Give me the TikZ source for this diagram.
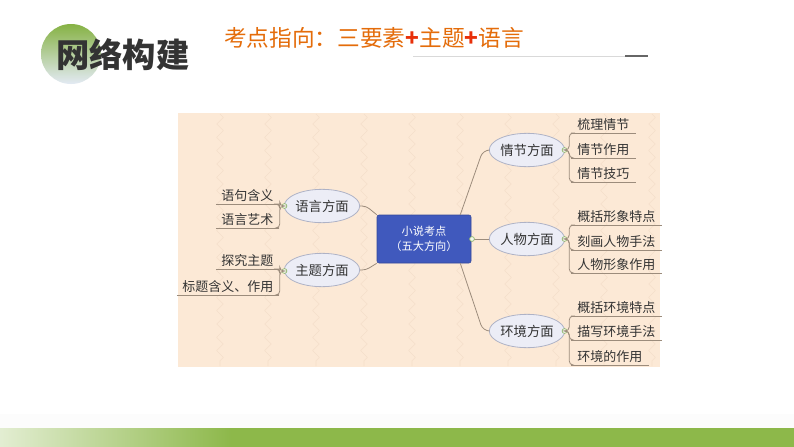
\documentclass[tikz,border=0pt]{standalone}
\usepackage{fontspec}
\newfontfamily\cjk{Noto Sans CJK SC}
\usetikzlibrary{shapes.geometric,decorations.pathmorphing}
\definecolor{peach}{HTML}{FCE9D6}
\definecolor{zig}{HTML}{F4DFCA}
\definecolor{conncol}{HTML}{9C8C7C}
\definecolor{ellfill}{HTML}{ECEDF6}
\definecolor{elldraw}{HTML}{AEB2C6}
\definecolor{ctrblue}{HTML}{4059BD}
\definecolor{ctrdraw}{HTML}{34489A}
\definecolor{dotdraw}{HTML}{8DB36A}
\definecolor{dotfill}{HTML}{F2F8EA}
\definecolor{orangeT}{HTML}{E46C0A}
\definecolor{plusred}{HTML}{E8300A}
\definecolor{barGreen}{HTML}{8DB84A}
\definecolor{circGreen}{HTML}{86B244}
\definecolor{circBlue}{HTML}{E3EAF4}
\begin{document}
\begin{tikzpicture}[x=0.75pt,y=-0.75pt,
  conn/.style={draw=conncol, line width=0.6pt},
  ell/.style={ellipse, draw=elldraw, fill=ellfill, line width=0.6pt,
    minimum width=54pt, minimum height=25pt, inner sep=0pt,
    font=\cjk\fontsize{10}{11}\selectfont, text=black!80},
  leafR/.style={anchor=south west, inner xsep=4.5pt, inner ysep=1.5pt,
    font=\cjk\fontsize{9.75}{11}\selectfont, text=black!80},
  leafL/.style={anchor=south east, inner xsep=4pt, inner ysep=1.5pt,
    font=\cjk\fontsize{9.75}{11}\selectfont, text=black!80},
  uline/.style={draw=conncol, line width=0.6pt},
  dot/.style={circle, draw=dotdraw, fill=dotfill, line width=0.5pt,
    minimum size=3.6pt, inner sep=0pt},
  ctrbox/.style={rectangle, rounded corners=1.5pt, fill=ctrblue, draw=ctrdraw,
    minimum width=70.5pt, minimum height=36pt, align=center, text=white,
    font=\cjk\fontsize{8.4}{11}\selectfont}
]
\useasboundingbox (0,0) rectangle (794,447);
\fill[white] (0,0) rectangle (794,447);

% ---------- header ----------
\shade[top color=circGreen, bottom color=circBlue, middle color=circGreen!50!circBlue]
  (71,54) circle (30);
\node[anchor=west, inner sep=0pt, text=black!80,
  font=\cjk\bfseries\fontsize{25}{26}\selectfont] (title) at (56,55) {网络构建};
\node[anchor=west, inner sep=0pt, text=orangeT,
  font=\cjk\fontsize{17}{18}\selectfont] (sub) at (224,38)
  {考点指向：三要素\textcolor{plusred}{\bfseries +}主题\textcolor{plusred}{\bfseries +}语言};
\coordinate (ul1) at (413,56);
\coordinate (ul2) at (625,56);
\coordinate (ul3) at (648,56);
\draw[draw=black!15, line width=0.5pt] (ul1) -- (ul2);
\draw[draw=black!60, line width=1.5pt] (ul2) -- (ul3);

% ---------- bottom bar ----------
\fill[black!1] (0,414) rectangle (794,428);
\fill[barGreen] (230,428) rectangle (794,447);
\shade[left color=barGreen!25, right color=barGreen] (0,428) rectangle (231,447);

% ---------- mind map background ----------
\fill[peach] (178,113) rectangle (660,367);
\foreach \x in {220,268,316,364,412,460,508,556,604,652}
  \draw[zig, line width=0.4pt, decorate, decoration={zigzag, segment length=10pt, amplitude=2.5pt}]
    (\x,114) -- (\x,366);

% ---------- nodes ----------
\node[ctrbox] (ctr) at (424,239) {小说考点\\（五大方向）};

\node[ell] (qj) at (527,150) {情节方面};
\node[ell] (rw) at (527,239) {人物方面};
\node[ell] (hj) at (527,331) {环境方面};
\node[ell] (yy) at (322,206) {语言方面};
\node[ell] (zt) at (322,270) {主题方面};

% leaves right
\node[leafR] (q1) at (571,133) {梳理情节};
\node[leafR] (q2) at (571,158) {情节作用};
\node[leafR] (q3) at (571,182) {情节技巧};
\node[leafR] (r1) at (571,225) {概括形象特点};
\node[leafR] (r2) at (571,250) {刻画人物手法};
\node[leafR] (r3) at (571,273) {人物形象作用};
\node[leafR] (h1) at (571,316) {概括环境特点};
\node[leafR] (h2) at (571,340) {描写环境手法};
\node[leafR] (h3) at (571,365) {环境的作用};
% leaves left
\node[leafL] (y1) at (279,204) {语句含义};
\node[leafL] (y2) at (279,228) {语言艺术};
\node[leafL] (z1) at (279,269) {探究主题};
\node[leafL] (z2) at (279,295) {标题含义、作用};

% underlines
\foreach \n in {q1,q2,q3,r1,r2,r3,h1,h2,h3,y1,y2,z1,z2}
  \draw[uline] (\n.south west) -- (\n.south east);

% ---------- connectors ----------
\coordinate (kq) at (483,150);
\coordinate (kh) at (483,331);
\coordinate (ky) at (366,206);
\coordinate (kz) at (366,270);
\draw[conn, rounded corners=5pt] ([xshift=-8.25pt]ctr.north east) -- (kq) -- (qj.west);
\draw[conn, rounded corners=5pt] ([xshift=-8.25pt]ctr.south east) -- (kh) -- (hj.west);
\draw[conn] (ctr.east) -- (rw.west);
\draw[conn, rounded corners=3pt] (ctr.north west) -- (ky) -- (yy.east);
\draw[conn, rounded corners=3pt] (ctr.south west) -- (kz) -- (zt.east);

\node[dot] (dc) at (472,239) {};
\node[dot] (dq) at (564.5,150) {};
\node[dot] (dr) at (564.5,239) {};
\node[dot] (dh) at (564.5,331) {};
\node[dot] (dy) at (284.5,206) {};
\node[dot] (dz) at (284.5,271) {};

\foreach \d/\a/\b/\c in {dq/q1/q2/q3, dr/r1/r2/r3, dh/h1/h2/h3}{
  \draw[conn, rounded corners=3pt] (\d.east) -- ++(2,0) |- (\a.south west);
  \draw[conn, rounded corners=3pt] (\d.east) -- ++(2,0) |- (\b.south west);
  \draw[conn, rounded corners=3pt] (\d.east) -- ++(2,0) |- (\c.south west);
}
\foreach \d/\a/\b in {dy/y1/y2, dz/z1/z2}{
  \draw[conn, rounded corners=3pt] (\d.west) -- ++(-2,0) |- (\a.south east);
  \draw[conn, rounded corners=3pt] (\d.west) -- ++(-2,0) |- (\b.south east);
}
\end{tikzpicture}
\end{document}
